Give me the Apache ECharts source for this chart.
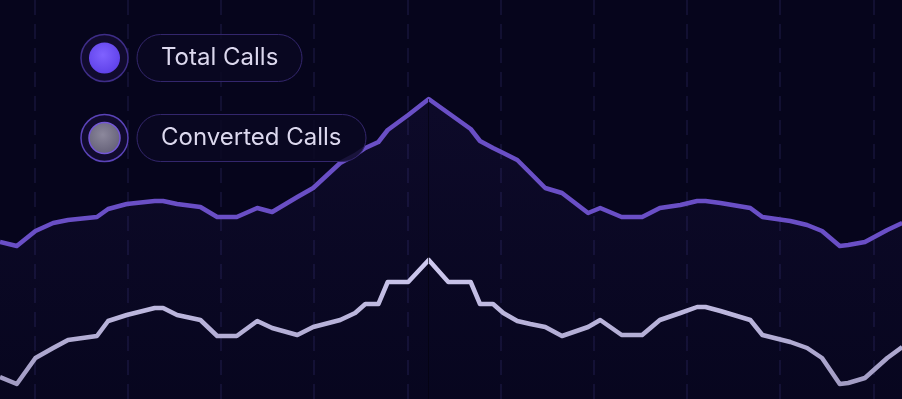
<!DOCTYPE html>
<html>
<head>
<meta charset="utf-8">
<script src="https://cdn.jsdelivr.net/npm/echarts@6/dist/echarts.min.js"></script>
<style>
  html, body { margin: 0; padding: 0; background: #06051c; }
  #chart { width: 902px; height: 399px; }
</style>
</head>
<body>
<div id="chart"></div>
<script>
// x position of each sample (axis units, one dashed guide every 10 units)
var xPoints = [6.3, 8.1, 10.1, 12.0, 13.6, 16.7, 17.9, 19.9, 22.9, 23.8,
    25.3, 27.8, 29.6, 31.7, 33.9, 35.5, 38.2, 39.9, 42.8, 44.4,
    45.5, 46.9, 47.9, 50.1, 52.3, 54.4, 56.8, 57.8, 59.2, 60.3,
    61.8, 63.2, 64.8, 66.6, 69.4, 70.7, 73.0, 75.2, 77.1, 79.3,
    81.1, 82.0, 83.6, 86.8, 88.1, 91.1, 92.9, 94.5, 96.4, 97.3,
    99.1, 101.5, 103.1];
var totalCalls = [157, 153, 168, 176, 179, 182, 190, 195, 198, 198,
    195, 192, 182, 182, 191, 187, 202, 211, 236, 244,
    251, 257, 269, 284, 300, 286, 270, 258, 251, 246,
    239, 226, 211, 206, 186, 191, 182, 182, 191, 194,
    198, 198, 196, 191, 182, 178, 174, 168, 153, 154,
    157, 169, 176];
var convertedCalls = [22, 15, 41, 51, 59, 63, 78, 84, 91, 91,
    84, 79, 63, 63, 78, 71, 64, 72, 79, 86,
    95, 95, 117, 117, 139, 117, 117, 95, 95, 86,
    78, 75, 72, 63, 72, 79, 64, 64, 79, 86,
    92, 92, 88, 79, 64, 57, 51, 41, 15, 16,
    21, 41, 52];
var seriesNames = ['Total Calls', 'Converted Calls'];

function pairs(ys) {
    return xPoints.map(function (x, i) { return [x, ys[i]]; });
}

var peakIdx = totalCalls.indexOf(Math.max.apply(null, totalCalls));

var chart = echarts.init(document.getElementById('chart'));
var option = {
    backgroundColor: '#06051c',
    animation: false,
    grid: { left: -58.7, right: -64.5, top: 0, bottom: 0, outerBoundsMode: 'none', containLabel: false },
    xAxis: {
        type: 'value',
        min: 0,
        max: 110,
        interval: 10,
        axisLine: { show: false },
        axisTick: { show: false },
        axisLabel: { show: false },
        splitLine: {
            show: true,
            lineStyle: { color: '#17143a', width: 1.5, type: [15, 9] }
        }
    },
    yAxis: {
        type: 'value',
        min: 0,
        max: 399,
        axisLine: { show: false },
        axisTick: { show: false },
        axisLabel: { show: false },
        splitLine: { show: false }
    },
    series: [
        {
            name: seriesNames[0],
            type: 'line',
            data: pairs(totalCalls),
            symbol: 'none',
            z: 2,
            lineStyle: { color: '#6a4fc6', width: 4.5, join: 'round' },
            areaStyle: {
                color: {
                    type: 'linear', x: 0, y: 0, x2: 0, y2: 1,
                    colorStops: [
                        { offset: 0, color: 'rgba(120,86,240,0.09)' },
                        { offset: 1, color: 'rgba(120,86,240,0.02)' }
                    ]
                }
            },
            markLine: {
                silent: true,
                symbol: 'none',
                label: { show: false },
                lineStyle: { color: 'rgba(4,3,16,0.7)', width: 1, type: 'solid' },
                data: [[
                    { coord: [xPoints[peakIdx], totalCalls[peakIdx]] },
                    { coord: [xPoints[peakIdx], 0] }
                ]]
            }
        },
        {
            name: seriesNames[1],
            type: 'line',
            data: pairs(convertedCalls),
            symbol: 'none',
            z: 3,
            lineStyle: {
                width: 4.5,
                join: 'round',
                color: {
                    type: 'linear', x: 0, y: 0, x2: 0, y2: 1,
                    colorStops: [
                        { offset: 0, color: '#d0cbf1' },
                        { offset: 1, color: '#a19bc3' }
                    ]
                }
            }
        }
    ],
    graphic: [
        // legend: total calls
        { type: 'circle', z: 10, shape: { cx: 104.5, cy: 58, r: 23.5 },
          style: { fill: '#110b2e', stroke: '#3e2d88', lineWidth: 1.5 } },
        { type: 'circle', z: 11, shape: { cx: 104.5, cy: 58, r: 15.5 },
          style: { fill: { type: 'radial', x: 0.45, y: 0.4, r: 0.7,
              colorStops: [{ offset: 0, color: '#7f62ff' }, { offset: 1, color: '#5b3de6' }] } } },
        { type: 'rect', z: 10, shape: { x: 137, y: 34.5, width: 165, height: 47, r: 23.5 },
          style: { fill: 'rgba(11,8,34,0.85)', stroke: '#33266c', lineWidth: 1 } },
        { type: 'text', z: 11, style: { x: 161, y: 58, text: seriesNames[0],
          fontFamily: 'Inter', fontSize: 24, fill: '#dcd8ee', verticalAlign: 'middle' } },
        // legend: converted calls
        { type: 'circle', z: 10, shape: { cx: 104.5, cy: 138, r: 23.5 },
          style: { fill: '#110b2e', stroke: '#5a43b8', lineWidth: 1.5 } },
        { type: 'circle', z: 11, shape: { cx: 104.5, cy: 138, r: 15.5 },
          style: { fill: { type: 'radial', x: 0.45, y: 0.4, r: 0.7,
              colorStops: [{ offset: 0, color: '#8c889c' }, { offset: 1, color: '#5e5a72' }] },
              stroke: '#7457d8', lineWidth: 1.5 } },
        { type: 'rect', z: 10, shape: { x: 137, y: 114.5, width: 229, height: 47, r: 23.5 },
          style: { fill: 'rgba(11,8,34,0.85)', stroke: '#33266c', lineWidth: 1 } },
        { type: 'text', z: 11, style: { x: 161, y: 138, text: seriesNames[1],
          fontFamily: 'Inter', fontSize: 24, fill: '#dcd8ee', verticalAlign: 'middle' } }
    ]
};
chart.setOption(option);
window.addEventListener('resize', chart.resize);
</script>
</body>
</html>
